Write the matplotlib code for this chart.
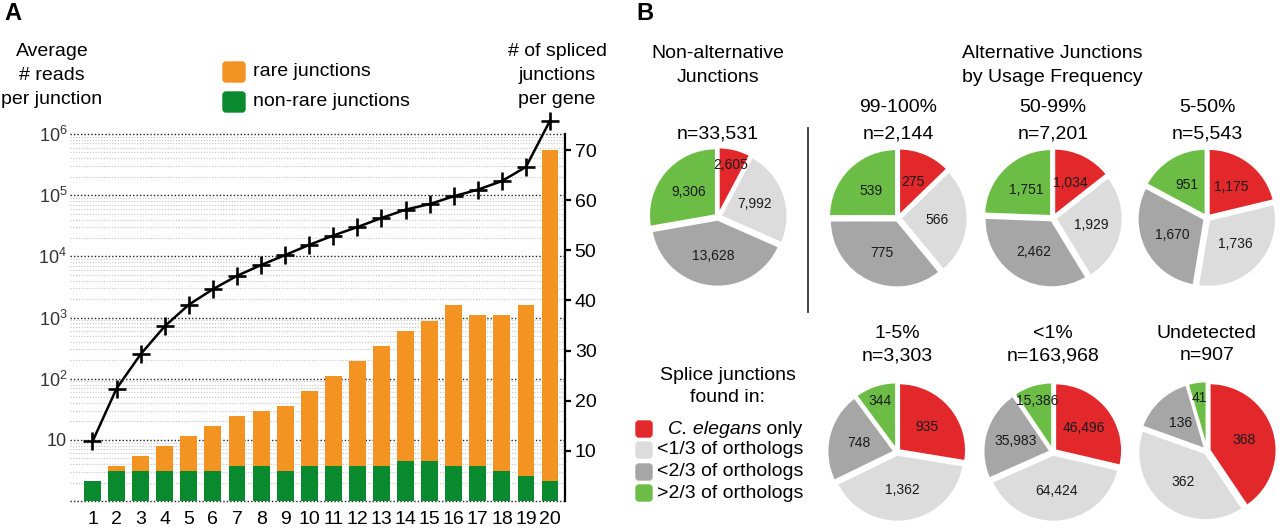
import matplotlib.pyplot as plt
from matplotlib.patches import FancyBboxPatch
import numpy as np

plt.rcParams['font.family'] = ['Liberation Sans', 'DejaVu Sans']
plt.rcParams['mathtext.fontset'] = 'custom'
plt.rcParams['mathtext.rm'] = 'Liberation Sans'

# ---- panel A data ----
bins = list(range(1, 21))
nonrare_junctions = [4, 6, 6, 6, 6, 6, 7, 7, 6, 7, 7, 7, 7, 8, 8, 7, 7, 6, 5, 4]
rare_junctions = [0, 1, 3, 5, 7, 9, 10, 11, 13, 15, 18, 21, 24, 26, 28, 32, 30, 31, 34, 66]
reads_per_junction = [9.4, 69, 251, 720, 1620, 2900, 4800, 7200, 10500, 15400,
                      21900, 30100, 42300, 58000, 71500, 96000, 123000, 170000,
                      290000, 1660000]

# ---- panel B data ----
pie_groups = ['', '99-100%', '50-99%', '5-50%', '1-5%', '<1%', 'Undetected']
pie_n = ['33,531', '2,144', '7,201', '5,543', '3,303', '163,968', '907']
ce_only = [2605, 275, 1034, 1175, 935, 46496, 368]
lt_third = [7992, 566, 1929, 1736, 1362, 64424, 362]
lt_two_thirds = [13628, 775, 2462, 1670, 748, 35983, 136]
gt_two_thirds = [9306, 539, 1751, 951, 344, 15386, 41]
class_labels = ['C. elegans only', '<1/3 of orthologs', '<2/3 of orthologs', '>2/3 of orthologs']
class_colors = ['#e3282c', '#dcdcdc', '#a6a6a6', '#6bbd45']

W, H = 1280, 530
fig = plt.figure(figsize=(W / 100, H / 100), dpi=100)


def box(x0, y0, x1, y1):
    # pixel box, origin top-left -> figure rect
    return [x0 / W, 1 - y1 / H, (x1 - x0) / W, (y1 - y0) / H]


# ---------------- panel A ----------------
ax = fig.add_axes(box(70, 134, 565, 501))
ax.set_yscale('log')
ax.set_ylim(1, 1e6)
ax.set_xlim(0.066, 20.62)
for e in range(6):
    for m in range(2, 10):
        ax.axhline(m * 10 ** e, color='#c4c4c4', ls=(0, (1, 1.5)), lw=0.8, zorder=0)
for e in range(7):
    ax.axhline(10 ** e, color='#222222', ls=(0, (1, 1.5)), lw=1.0, zorder=1, clip_on=False)
for s in ax.spines.values():
    s.set_visible(False)
ax.set_yticks([10, 1e2, 1e3, 1e4, 1e5, 1e6])
ax.set_yticklabels(['10'] + [r'$\mathregular{10^%d}$' % e for e in range(2, 7)])
ax.yaxis.set_minor_locator(plt.NullLocator())
ax.tick_params(axis='y', length=0, pad=2, labelsize=13, labelcolor='#333333')
ax.set_xticks(bins)
ax.set_xticklabels([str(b) for b in bins])
ax.tick_params(axis='x', length=0, pad=7, labelsize=14)

axb = ax.twinx()
axb.patch.set_visible(False)
axb.bar(bins, nonrare_junctions, width=0.7, color='#0a8a2e', zorder=2)
axb.bar(bins, rare_junctions, width=0.7, bottom=nonrare_junctions, color='#f39322', zorder=2)
axb.set_ylim(0, 73.2)
axb.set_yticks([10, 20, 30, 40, 50, 60, 70])
for k in ['top', 'left', 'bottom']:
    axb.spines[k].set_visible(False)
axb.spines['right'].set_linewidth(1.6)
axb.tick_params(axis='y', length=4, width=1.6, pad=3, labelsize=14)

axl = ax.twinx()
axl.set_yscale('log')
axl.set_ylim(1, 1e6)
axl.axis('off')
axl.plot(bins, reads_per_junction, color='black', lw=1.8, marker='+', ms=12.5,
         mew=1.9, clip_on=False, zorder=5)

# overlay in pixel coordinates for labels / legends
ov = fig.add_axes([0, 0, 1, 1])
ov.set_xlim(0, W)
ov.set_ylim(H, 0)
ov.axis('off')
ov.patch.set_visible(False)

ov.text(4, 14, 'A', fontsize=17, fontweight='bold', va='center', ha='left')
ov.text(636, 14, 'B', fontsize=17, fontweight='bold', va='center', ha='left')

for txt, y in zip(['Average', '# reads', 'per junction'], [51, 75, 99]):
    ov.text(52, y, txt, fontsize=14, ha='center', va='center')
for txt, y in zip(['# of spliced', 'junctions', 'per gene'], [51, 75, 99]):
    ov.text(557, y, txt, fontsize=14, ha='center', va='center')

for col, lab, y in [('#f39322', 'rare junctions', 72), ('#0a8a2e', 'non-rare junctions', 102)]:
    ov.add_patch(FancyBboxPatch((223, y - 10), 22, 20, boxstyle='round,pad=0,rounding_size=3',
                                color=col))
    ov.text(253, y, lab, fontsize=14, ha='left', va='center')

# ---------------- panel B ----------------
ov.text(718, 53, 'Non-alternative', fontsize=14, ha='center', va='center')
ov.text(718, 77, 'Junctions', fontsize=14, ha='center', va='center')
ov.text(1052, 53, 'Alternative Junctions', fontsize=14, ha='center', va='center')
ov.text(1052, 77, 'by Usage Frequency', fontsize=14, ha='center', va='center')
ov.plot([808, 808], [128, 312], color='#333333', lw=1.3)

centers = [(718, 217), (898, 218), (1053, 218), (1207, 218),
           (897, 452), (1053, 452), (1207, 451)]
R = 67
half = 85
for i, (cx, cy) in enumerate(centers):
    vals = [ce_only[i], lt_third[i], lt_two_thirds[i], gt_two_thirds[i]]
    pa = fig.add_axes(box(cx - half, cy - half, cx + half, cy + half))
    pa.pie(vals, colors=class_colors, startangle=90, counterclock=False,
           explode=[0.04] * 4, wedgeprops=dict(edgecolor='white', linewidth=1.5))
    pa.set_xlim(-half / R, half / R)
    pa.set_ylim(-half / R, half / R)
    pa.set_aspect('equal')
    tot = float(sum(vals))
    start = 90.0
    for v in vals:
        frac = v / tot
        mid = np.deg2rad(start - frac * 360 / 2)
        d = 0.8 if frac < 0.11 else 0.58
        pa.text(d * np.cos(mid), d * np.sin(mid), f'{v:,}', fontsize=10,
                ha='center', va='center', color='#1a1a1a')
        start -= frac * 360
    if i < 4:
        ytop, yn = 108, 134
    else:
        ytop, yn = 333, 356
    if pie_groups[i]:
        ov.text(cx, ytop, pie_groups[i], fontsize=14, ha='center', va='center')
    ov.text(cx, yn, 'n=' + pie_n[i], fontsize=14, ha='center', va='center')

ov.text(728, 375, 'Splice junctions', fontsize=14, ha='center', va='center')
ov.text(728, 398, 'found in:', fontsize=14, ha='center', va='center')
for k, (col, y) in enumerate(zip(class_colors, [429, 450, 472, 493])):
    ov.add_patch(FancyBboxPatch((636, y - 8), 16, 16, boxstyle='round,pad=0,rounding_size=3',
                                color=col))
    if k == 0:
        t = ov.text(668, y, 'C. elegans', fontsize=14, style='italic', ha='left', va='center')
        ov.annotate(' only', xy=(1, 0), xycoords=t, fontsize=14, ha='left', va='bottom')
    else:
        ov.text(657, y, class_labels[k], fontsize=14, ha='left', va='center')

fig.savefig('out.png', dpi=100)
